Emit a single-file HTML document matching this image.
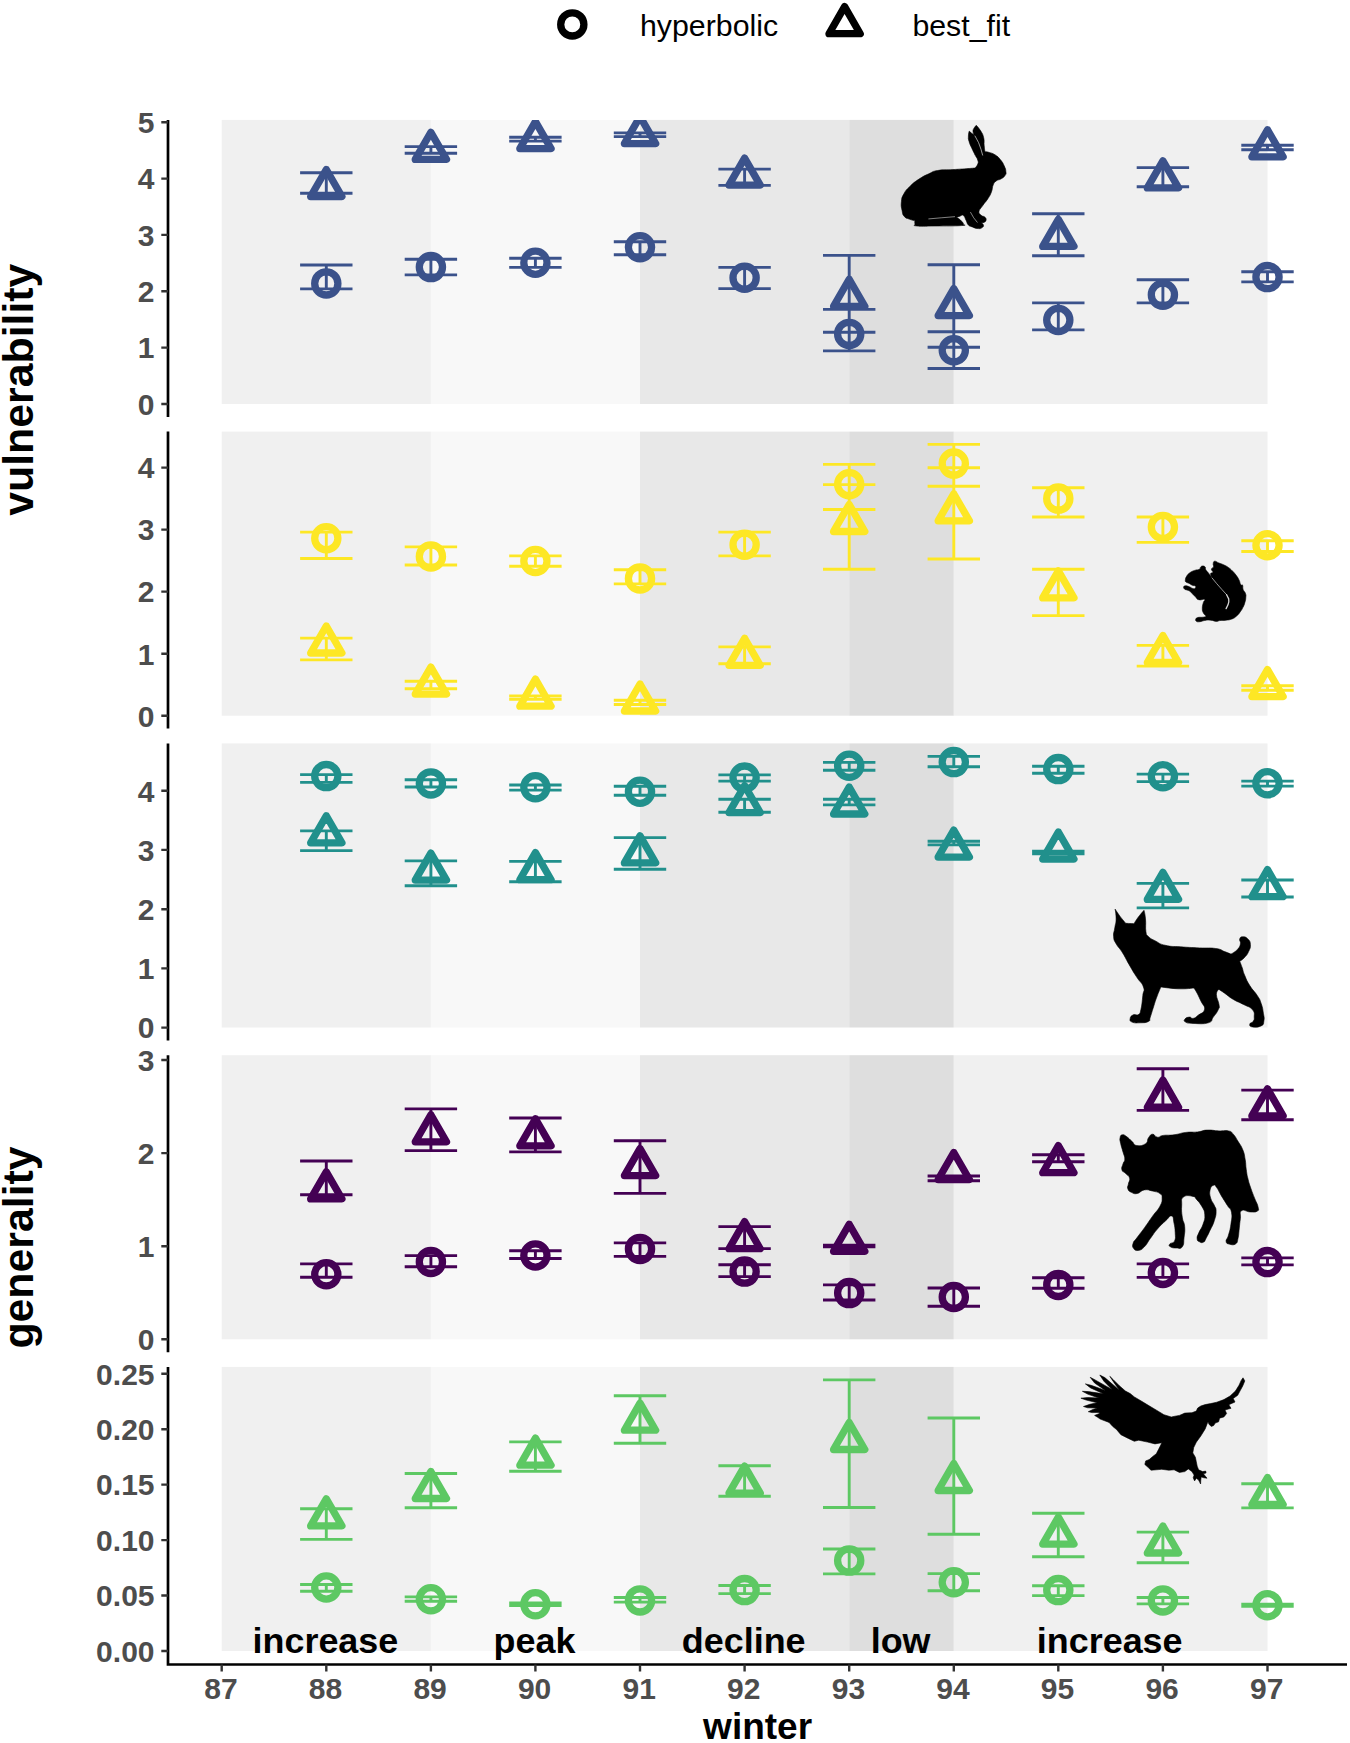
<!DOCTYPE html>
<html lang="en"><head><meta charset="utf-8"><title>vulnerability and generality by winter</title>
<style>
html,body{margin:0;padding:0;background:#fff}
body{width:1350px;height:1743px;overflow:hidden}
svg{display:block}
text{font-family:"Liberation Sans",sans-serif}
.tk{font-size:30px;font-weight:bold;fill:#4d4d4d}
.lab{font-size:35.9px;font-weight:bold;fill:#000;text-anchor:middle}
.leg{font-size:30.3px;fill:#000}
.ytitle{font-size:42.8px;font-weight:bold;fill:#000;text-anchor:middle}
.xtitle{font-size:37px;font-weight:bold;fill:#000;text-anchor:middle}
.mk{fill:none;stroke-width:7.3;stroke-linejoin:round}
.eb{fill:none;stroke-width:2.9}
</style></head><body>
<svg width="1350" height="1743" viewBox="0 0 1350 1743">
<rect width="1350" height="1743" fill="#fff"/>
<g id="legend">
<circle cx="572.3" cy="24.4" r="11.6" class="mk" stroke="#000"/>
<text class="leg" x="640.0" y="35.6">hyperbolic</text>
<path d="M844.60 6.66L860.22 33.72L828.98 33.72Z" class="mk" stroke="#000"/>
<text class="leg" x="912.4" y="35.6">best_fit</text>
</g>
<defs>
<clipPath id="cp0"><rect x="168.0" y="119.9" width="1179.0" height="297.0"/></clipPath>
<clipPath id="cp1"><rect x="168.0" y="431.6" width="1179.0" height="297.0"/></clipPath>
<clipPath id="cp2"><rect x="168.0" y="743.4" width="1179.0" height="297.0"/></clipPath>
<clipPath id="cp3"><rect x="168.0" y="1055.2" width="1179.0" height="297.0"/></clipPath>
<clipPath id="cp4"><rect x="168.0" y="1366.9" width="1179.0" height="297.0"/></clipPath>
</defs>
<g id="panel1">
<rect x="221.7" y="119.9" width="209.2" height="284.1" fill="#f0f0f0"/>
<rect x="430.9" y="119.9" width="209.2" height="284.1" fill="#f8f8f8"/>
<rect x="640.0" y="119.9" width="209.2" height="284.1" fill="#e8e8e8"/>
<rect x="849.2" y="119.9" width="104.6" height="284.1" fill="#dedede"/>
<rect x="953.8" y="119.9" width="313.7" height="284.1" fill="#f0f0f0"/>
<g clip-path="url(#cp0)" stroke="#3B528B">
<path class="eb" d="M300.1 172.7H352.5M300.1 193.2H352.5M326.3 172.7V193.2M300.1 265.0H352.5M300.1 288.9H352.5M326.3 265.0V288.9M404.7 146.6H457.1M404.7 153.3H457.1M430.9 146.6V153.3M404.7 259.3H457.1M404.7 274.9H457.1M430.9 259.3V274.9M509.2 137.2H561.6M509.2 141.1H561.6M535.4 137.2V141.1M509.2 258.3H561.6M509.2 267.4H561.6M535.4 258.3V267.4M613.8 132.9H666.2M613.8 136.6H666.2M640.0 132.9V136.6M613.8 241.7H666.2M613.8 254.7H666.2M640.0 241.7V254.7M718.4 169.1H770.8M718.4 185.4H770.8M744.6 169.1V185.4M718.4 267.4H770.8M718.4 288.6H770.8M744.6 267.4V288.6M823.0 255.4H875.4M823.0 332.2H875.4M849.2 255.4V332.2M823.0 309.4H875.4M823.0 350.9H875.4M849.2 309.4V350.9M927.6 264.8H980.0M927.6 347.2H980.0M953.8 264.8V347.2M927.6 331.7H980.0M927.6 368.5H980.0M953.8 331.7V368.5M1032.1 213.7H1084.5M1032.1 255.7H1084.5M1058.3 213.7V255.7M1032.1 302.9H1084.5M1032.1 329.9H1084.5M1058.3 302.9V329.9M1136.7 167.6H1189.1M1136.7 186.7H1189.1M1162.9 167.6V186.7M1136.7 279.8H1189.1M1136.7 302.9H1189.1M1162.9 279.8V302.9M1241.3 145.2H1293.7M1241.3 149.8H1293.7M1267.5 145.2V149.8M1241.3 271.7H1293.7M1241.3 281.9H1293.7M1267.5 271.7V281.9"/>
<circle class="mk" cx="326.3" cy="283.4" r="11.6"/>
<circle class="mk" cx="430.9" cy="267.1" r="11.6"/>
<circle class="mk" cx="535.4" cy="262.7" r="11.6"/>
<circle class="mk" cx="640.0" cy="247.2" r="11.6"/>
<circle class="mk" cx="744.6" cy="277.7" r="11.6"/>
<circle class="mk" cx="849.2" cy="333.9" r="11.6"/>
<circle class="mk" cx="953.8" cy="350.3" r="11.6"/>
<circle class="mk" cx="1058.3" cy="320.0" r="11.6"/>
<circle class="mk" cx="1162.9" cy="294.7" r="11.6"/>
<circle class="mk" cx="1267.5" cy="277.1" r="11.6"/>
<path class="mk" d="M326.28 169.46L341.90 196.52L310.66 196.52ZM430.86 132.36L446.48 159.42L415.24 159.42ZM535.44 121.56L551.06 148.62L519.82 148.62ZM640.02 116.56L655.64 143.62L624.40 143.62ZM744.60 158.06L760.22 185.12L728.98 185.12ZM849.18 279.26L864.80 306.32L833.56 306.32ZM953.76 288.56L969.38 315.62L938.14 315.62ZM1058.34 219.36L1073.96 246.42L1042.72 246.42ZM1162.92 160.86L1178.54 187.92L1147.30 187.92ZM1267.50 129.76L1283.12 156.82L1251.88 156.82Z"/>
</g>
<path d="M168.0 119.9V416.9" stroke="#000" stroke-width="2.7" fill="none"/>
<path d="M161.3 404.0H168.0M161.3 347.6H168.0M161.3 291.3H168.0M161.3 234.9H168.0M161.3 178.6H168.0M161.3 122.2H168.0" stroke="#333" stroke-width="2.4" fill="none"/>
<text class="tk" text-anchor="end" x="154.5" y="414.8">0</text>
<text class="tk" text-anchor="end" x="154.5" y="358.4">1</text>
<text class="tk" text-anchor="end" x="154.5" y="302.1">2</text>
<text class="tk" text-anchor="end" x="154.5" y="245.8">3</text>
<text class="tk" text-anchor="end" x="154.5" y="189.4">4</text>
<text class="tk" text-anchor="end" x="154.5" y="133.1">5</text>
</g>
<g id="panel2">
<rect x="221.7" y="431.6" width="209.2" height="284.1" fill="#f0f0f0"/>
<rect x="430.9" y="431.6" width="209.2" height="284.1" fill="#f8f8f8"/>
<rect x="640.0" y="431.6" width="209.2" height="284.1" fill="#e8e8e8"/>
<rect x="849.2" y="431.6" width="104.6" height="284.1" fill="#dedede"/>
<rect x="953.8" y="431.6" width="313.7" height="284.1" fill="#f0f0f0"/>
<g clip-path="url(#cp1)" stroke="#FDE725">
<path class="eb" d="M300.1 638.1H352.5M300.1 659.9H352.5M326.3 638.1V659.9M300.1 532.1H352.5M300.1 558.5H352.5M326.3 532.1V558.5M404.7 681.2H457.1M404.7 688.7H457.1M430.9 681.2V688.7M404.7 546.9H457.1M404.7 565.0H457.1M430.9 546.9V565.0M509.2 695.9H561.6M509.2 699.3H561.6M535.4 695.9V699.3M509.2 555.9H561.6M509.2 566.3H561.6M535.4 555.9V566.3M613.8 700.3H666.2M613.8 704.5H666.2M640.0 700.3V704.5M613.8 569.7H666.2M613.8 583.9H666.2M640.0 569.7V583.9M718.4 646.9H770.8M718.4 663.8H770.8M744.6 646.9V663.8M718.4 532.1H770.8M718.4 555.9H770.8M744.6 532.1V555.9M823.0 484.6H875.4M823.0 569.2H875.4M849.2 484.6V569.2M823.0 464.4H875.4M823.0 509.5H875.4M849.2 464.4V509.5M927.6 467.8H980.0M927.6 559.0H980.0M953.8 467.8V559.0M927.6 444.4H980.0M927.6 486.2H980.0M953.8 444.4V486.2M1032.1 569.2H1084.5M1032.1 615.6H1084.5M1058.3 569.2V615.6M1032.1 487.7H1084.5M1032.1 517.0H1084.5M1058.3 487.7V517.0M1136.7 645.4H1189.1M1136.7 666.1H1189.1M1162.9 645.4V666.1M1136.7 517.0H1189.1M1136.7 542.4H1189.1M1162.9 517.0V542.4M1241.3 685.7H1293.7M1241.3 690.2H1293.7M1267.5 685.7V690.2M1241.3 540.7H1293.7M1241.3 551.5H1293.7M1267.5 540.7V551.5"/>
<circle class="mk" cx="326.3" cy="538.2" r="11.6"/>
<circle class="mk" cx="430.9" cy="556.4" r="11.6"/>
<circle class="mk" cx="535.4" cy="561.0" r="11.6"/>
<circle class="mk" cx="640.0" cy="578.4" r="11.6"/>
<circle class="mk" cx="744.6" cy="544.7" r="11.6"/>
<circle class="mk" cx="849.2" cy="484.2" r="11.6"/>
<circle class="mk" cx="953.8" cy="463.6" r="11.6"/>
<circle class="mk" cx="1058.3" cy="498.6" r="11.6"/>
<circle class="mk" cx="1162.9" cy="527.0" r="11.6"/>
<circle class="mk" cx="1267.5" cy="545.2" r="11.6"/>
<path class="mk" d="M326.28 625.96L341.90 653.02L310.66 653.02ZM430.86 667.06L446.48 694.12L415.24 694.12ZM535.44 679.16L551.06 706.22L519.82 706.22ZM640.02 683.96L655.64 711.02L624.40 711.02ZM744.60 638.26L760.22 665.32L728.98 665.32ZM849.18 504.46L864.80 531.52L833.56 531.52ZM953.76 493.76L969.38 520.82L938.14 520.82ZM1058.34 570.86L1073.96 597.92L1042.72 597.92ZM1162.92 635.46L1178.54 662.52L1147.30 662.52ZM1267.50 669.56L1283.12 696.62L1251.88 696.62Z"/>
</g>
<path d="M168.0 431.6V728.6" stroke="#000" stroke-width="2.7" fill="none"/>
<path d="M161.3 715.7H168.0M161.3 653.7H168.0M161.3 591.6H168.0M161.3 529.6H168.0M161.3 467.6H168.0" stroke="#333" stroke-width="2.4" fill="none"/>
<text class="tk" text-anchor="end" x="154.5" y="726.5">0</text>
<text class="tk" text-anchor="end" x="154.5" y="664.5">1</text>
<text class="tk" text-anchor="end" x="154.5" y="602.4">2</text>
<text class="tk" text-anchor="end" x="154.5" y="540.4">3</text>
<text class="tk" text-anchor="end" x="154.5" y="478.4">4</text>
</g>
<g id="panel3">
<rect x="221.7" y="743.4" width="209.2" height="284.1" fill="#f0f0f0"/>
<rect x="430.9" y="743.4" width="209.2" height="284.1" fill="#f8f8f8"/>
<rect x="640.0" y="743.4" width="209.2" height="284.1" fill="#e8e8e8"/>
<rect x="849.2" y="743.4" width="104.6" height="284.1" fill="#dedede"/>
<rect x="953.8" y="743.4" width="313.7" height="284.1" fill="#f0f0f0"/>
<g clip-path="url(#cp2)" stroke="#21908C">
<path class="eb" d="M300.1 830.9H352.5M300.1 850.6H352.5M326.3 830.9V850.6M300.1 774.6H352.5M300.1 782.4H352.5M326.3 774.6V782.4M404.7 860.9H457.1M404.7 885.8H457.1M430.9 860.9V885.8M404.7 779.8H457.1M404.7 787.0H457.1M430.9 779.8V787.0M509.2 861.4H561.6M509.2 881.7H561.6M535.4 861.4V881.7M509.2 785.0H561.6M509.2 790.1H561.6M535.4 785.0V790.1M613.8 837.6H666.2M613.8 869.2H666.2M640.0 837.6V869.2M613.8 786.3H666.2M613.8 795.3H666.2M640.0 786.3V795.3M718.4 799.2H770.8M718.4 812.2H770.8M744.6 799.2V812.2M718.4 774.9H770.8M718.4 781.1H770.8M744.6 774.9V781.1M823.0 799.2H875.4M823.0 804.9H875.4M849.2 799.2V804.9M823.0 762.4H875.4M823.0 770.2H875.4M849.2 762.4V770.2M927.6 841.2H980.0M927.6 844.9H980.0M953.8 841.2V844.9M927.6 756.4H980.0M927.6 766.8H980.0M953.8 756.4V766.8M1032.1 851.1H1084.5M1032.1 853.7H1084.5M1058.3 851.1V853.7M1032.1 766.3H1084.5M1032.1 773.3H1084.5M1058.3 766.3V773.3M1136.7 883.4H1189.1M1136.7 907.9H1189.1M1162.9 883.4V907.9M1136.7 774.1H1189.1M1136.7 781.6H1189.1M1162.9 774.1V781.6M1241.3 880.0H1293.7M1241.3 897.0H1293.7M1267.5 880.0V897.0M1241.3 781.1H1293.7M1241.3 786.1H1293.7M1267.5 781.1V786.1"/>
<circle class="mk" cx="326.3" cy="776.1" r="11.6"/>
<circle class="mk" cx="430.9" cy="783.4" r="11.6"/>
<circle class="mk" cx="535.4" cy="787.3" r="11.6"/>
<circle class="mk" cx="640.0" cy="791.7" r="11.6"/>
<circle class="mk" cx="744.6" cy="777.6" r="11.6"/>
<circle class="mk" cx="849.2" cy="765.8" r="11.6"/>
<circle class="mk" cx="953.8" cy="762.1" r="11.6"/>
<circle class="mk" cx="1058.3" cy="769.1" r="11.6"/>
<circle class="mk" cx="1162.9" cy="776.3" r="11.6"/>
<circle class="mk" cx="1267.5" cy="783.3" r="11.6"/>
<path class="mk" d="M326.28 815.76L341.90 842.82L310.66 842.82ZM430.86 853.06L446.48 880.12L415.24 880.12ZM535.44 852.66L551.06 879.72L519.82 879.72ZM640.02 835.86L655.64 862.92L624.40 862.92ZM744.60 785.56L760.22 812.62L728.98 812.62ZM849.18 786.96L864.80 814.02L833.56 814.02ZM953.76 830.06L969.38 857.12L938.14 857.12ZM1058.34 831.96L1073.96 859.02L1042.72 859.02ZM1162.92 872.36L1178.54 899.42L1147.30 899.42ZM1267.50 869.66L1283.12 896.72L1251.88 896.72Z"/>
</g>
<path d="M168.0 743.4V1040.4" stroke="#000" stroke-width="2.7" fill="none"/>
<path d="M161.3 1027.6H168.0M161.3 968.4H168.0M161.3 909.2H168.0M161.3 849.9H168.0M161.3 790.7H168.0" stroke="#333" stroke-width="2.4" fill="none"/>
<text class="tk" text-anchor="end" x="154.5" y="1038.4">0</text>
<text class="tk" text-anchor="end" x="154.5" y="979.2">1</text>
<text class="tk" text-anchor="end" x="154.5" y="920.0">2</text>
<text class="tk" text-anchor="end" x="154.5" y="860.7">3</text>
<text class="tk" text-anchor="end" x="154.5" y="801.5">4</text>
</g>
<g id="panel4">
<rect x="221.7" y="1055.2" width="209.2" height="284.1" fill="#f0f0f0"/>
<rect x="430.9" y="1055.2" width="209.2" height="284.1" fill="#f8f8f8"/>
<rect x="640.0" y="1055.2" width="209.2" height="284.1" fill="#e8e8e8"/>
<rect x="849.2" y="1055.2" width="104.6" height="284.1" fill="#dedede"/>
<rect x="953.8" y="1055.2" width="313.7" height="284.1" fill="#f0f0f0"/>
<g clip-path="url(#cp3)" stroke="#440154">
<path class="eb" d="M300.1 1161.0H352.5M300.1 1194.7H352.5M326.3 1161.0V1194.7M300.1 1263.9H352.5M300.1 1277.2H352.5M326.3 1263.9V1277.2M404.7 1108.9H457.1M404.7 1150.6H457.1M430.9 1108.9V1150.6M404.7 1255.6H457.1M404.7 1266.8H457.1M430.9 1255.6V1266.8M509.2 1118.0H561.6M509.2 1151.9H561.6M535.4 1118.0V1151.9M509.2 1250.7H561.6M509.2 1258.5H561.6M535.4 1250.7V1258.5M613.8 1140.8H666.2M613.8 1193.4H666.2M640.0 1140.8V1193.4M613.8 1242.9H666.2M613.8 1256.4H666.2M640.0 1242.9V1256.4M718.4 1226.6H770.8M718.4 1248.6H770.8M744.6 1226.6V1248.6M718.4 1264.7H770.8M718.4 1276.6H770.8M744.6 1264.7V1276.6M823.0 1245.3H875.4M823.0 1246.8H875.4M849.2 1245.3V1246.8M823.0 1284.9H875.4M823.0 1300.0H875.4M849.2 1284.9V1300.0M927.6 1176.0H980.0M927.6 1180.7H980.0M953.8 1176.0V1180.7M927.6 1288.0H980.0M927.6 1306.2H980.0M953.8 1288.0V1306.2M1032.1 1154.8H1084.5M1032.1 1161.8H1084.5M1058.3 1154.8V1161.8M1032.1 1277.7H1084.5M1032.1 1288.3H1084.5M1058.3 1277.7V1288.3M1136.7 1068.7H1189.1M1136.7 1110.4H1189.1M1162.9 1068.7V1110.4M1136.7 1263.9H1189.1M1136.7 1277.4H1189.1M1162.9 1263.9V1277.4M1241.3 1090.1H1293.7M1241.3 1119.7H1293.7M1267.5 1090.1V1119.7M1241.3 1257.9H1293.7M1241.3 1264.9H1293.7M1267.5 1257.9V1264.9"/>
<circle class="mk" cx="326.3" cy="1274.3" r="11.6"/>
<circle class="mk" cx="430.9" cy="1261.9" r="11.6"/>
<circle class="mk" cx="535.4" cy="1255.5" r="11.6"/>
<circle class="mk" cx="640.0" cy="1248.9" r="11.6"/>
<circle class="mk" cx="744.6" cy="1271.6" r="11.6"/>
<circle class="mk" cx="849.2" cy="1293.1" r="11.6"/>
<circle class="mk" cx="953.8" cy="1297.0" r="11.6"/>
<circle class="mk" cx="1058.3" cy="1284.9" r="11.6"/>
<circle class="mk" cx="1162.9" cy="1272.9" r="11.6"/>
<circle class="mk" cx="1267.5" cy="1262.1" r="11.6"/>
<path class="mk" d="M326.28 1171.86L341.90 1198.92L310.66 1198.92ZM430.86 1114.76L446.48 1141.82L415.24 1141.82ZM535.44 1118.76L551.06 1145.82L519.82 1145.82ZM640.02 1148.56L655.64 1175.62L624.40 1175.62ZM744.60 1221.66L760.22 1248.72L728.98 1248.72ZM849.18 1224.26L864.80 1251.32L833.56 1251.32ZM953.76 1152.46L969.38 1179.52L938.14 1179.52ZM1058.34 1145.66L1073.96 1172.72L1042.72 1172.72ZM1162.92 1080.16L1178.54 1107.22L1147.30 1107.22ZM1267.50 1088.86L1283.12 1115.92L1251.88 1115.92Z"/>
</g>
<path d="M168.0 1055.2V1352.2" stroke="#000" stroke-width="2.7" fill="none"/>
<path d="M161.3 1339.3H168.0M161.3 1246.2H168.0M161.3 1153.1H168.0M161.3 1060.0H168.0" stroke="#333" stroke-width="2.4" fill="none"/>
<text class="tk" text-anchor="end" x="154.5" y="1350.1">0</text>
<text class="tk" text-anchor="end" x="154.5" y="1257.0">1</text>
<text class="tk" text-anchor="end" x="154.5" y="1163.9">2</text>
<text class="tk" text-anchor="end" x="154.5" y="1070.8">3</text>
</g>
<g id="panel5">
<rect x="221.7" y="1366.9" width="209.2" height="284.1" fill="#f0f0f0"/>
<rect x="430.9" y="1366.9" width="209.2" height="284.1" fill="#f8f8f8"/>
<rect x="640.0" y="1366.9" width="209.2" height="284.1" fill="#e8e8e8"/>
<rect x="849.2" y="1366.9" width="104.6" height="284.1" fill="#dedede"/>
<rect x="953.8" y="1366.9" width="313.7" height="284.1" fill="#f0f0f0"/>
<text class="lab" x="325.4" y="1652.7">increase</text>
<text class="lab" x="534.5" y="1652.7">peak</text>
<text class="lab" x="743.7" y="1652.7">decline</text>
<text class="lab" x="900.6" y="1652.7">low</text>
<text class="lab" x="1109.7" y="1652.7">increase</text>
<g clip-path="url(#cp4)" stroke="#5DC863">
<path class="eb" d="M300.1 1508.8H352.5M300.1 1539.4H352.5M326.3 1508.8V1539.4M300.1 1584.5H352.5M300.1 1591.2H352.5M326.3 1584.5V1591.2M404.7 1473.5H457.1M404.7 1507.7H457.1M430.9 1473.5V1507.7M404.7 1596.9H457.1M404.7 1601.3H457.1M430.9 1596.9V1601.3M509.2 1441.9H561.6M509.2 1471.2H561.6M535.4 1441.9V1471.2M509.2 1603.0H561.6M509.2 1605.5H561.6M535.4 1603.0V1605.5M613.8 1395.7H666.2M613.8 1443.2H666.2M640.0 1395.7V1443.2M613.8 1597.5H666.2M613.8 1602.1H666.2M640.0 1597.5V1602.1M718.4 1465.7H770.8M718.4 1496.3H770.8M744.6 1465.7V1496.3M718.4 1585.5H770.8M718.4 1593.6H770.8M744.6 1585.5V1593.6M823.0 1379.9H875.4M823.0 1507.5H875.4M849.2 1379.9V1507.5M823.0 1549.0H875.4M823.0 1573.9H875.4M849.2 1549.0V1573.9M927.6 1418.0H980.0M927.6 1534.2H980.0M953.8 1418.0V1534.2M927.6 1573.6H980.0M927.6 1590.7H980.0M953.8 1573.6V1590.7M1032.1 1513.2H1084.5M1032.1 1556.8H1084.5M1058.3 1513.2V1556.8M1032.1 1585.8H1084.5M1032.1 1595.6H1084.5M1058.3 1585.8V1595.6M1136.7 1532.1H1189.1M1136.7 1562.7H1189.1M1162.9 1532.1V1562.7M1136.7 1597.5H1189.1M1136.7 1603.9H1189.1M1162.9 1597.5V1603.9M1241.3 1483.8H1293.7M1241.3 1507.9H1293.7M1267.5 1483.8V1507.9M1241.3 1604.2H1293.7M1241.3 1606.2H1293.7M1267.5 1604.2V1606.2"/>
<circle class="mk" cx="326.3" cy="1587.5" r="11.6"/>
<circle class="mk" cx="430.9" cy="1599.3" r="11.6"/>
<circle class="mk" cx="535.4" cy="1604.3" r="11.6"/>
<circle class="mk" cx="640.0" cy="1600.4" r="11.6"/>
<circle class="mk" cx="744.6" cy="1590.1" r="11.6"/>
<circle class="mk" cx="849.2" cy="1560.6" r="11.6"/>
<circle class="mk" cx="953.8" cy="1582.3" r="11.6"/>
<circle class="mk" cx="1058.3" cy="1590.1" r="11.6"/>
<circle class="mk" cx="1162.9" cy="1600.4" r="11.6"/>
<circle class="mk" cx="1267.5" cy="1605.2" r="11.6"/>
<path class="mk" d="M326.28 1498.86L341.90 1525.92L310.66 1525.92ZM430.86 1471.46L446.48 1498.52L415.24 1498.52ZM535.44 1438.16L551.06 1465.22L519.82 1465.22ZM640.02 1403.16L655.64 1430.22L624.40 1430.22ZM744.60 1466.06L760.22 1493.12L728.98 1493.12ZM849.18 1422.46L864.80 1449.52L833.56 1449.52ZM953.76 1463.46L969.38 1490.52L938.14 1490.52ZM1058.34 1517.06L1073.96 1544.12L1042.72 1544.12ZM1162.92 1525.96L1178.54 1553.02L1147.30 1553.02ZM1267.50 1477.46L1283.12 1504.52L1251.88 1504.52Z"/>
</g>
<path d="M168.0 1366.9V1664.5H1347.0" stroke="#000" stroke-width="2.7" fill="none" stroke-linejoin="miter"/>
<path d="M161.3 1651.0H168.0M161.3 1595.5H168.0M161.3 1540.1H168.0M161.3 1484.6H168.0M161.3 1429.2H168.0M161.3 1373.7H168.0" stroke="#333" stroke-width="2.4" fill="none"/>
<text class="tk" text-anchor="end" x="154.5" y="1661.8">0.00</text>
<text class="tk" text-anchor="end" x="154.5" y="1606.3">0.05</text>
<text class="tk" text-anchor="end" x="154.5" y="1550.9">0.10</text>
<text class="tk" text-anchor="end" x="154.5" y="1495.4">0.15</text>
<text class="tk" text-anchor="end" x="154.5" y="1440.0">0.20</text>
<text class="tk" text-anchor="end" x="154.5" y="1384.5">0.25</text>
</g>
<path d="M221.7 1664.5V1671.4M326.3 1664.5V1671.4M430.9 1664.5V1671.4M535.4 1664.5V1671.4M640.0 1664.5V1671.4M744.6 1664.5V1671.4M849.2 1664.5V1671.4M953.8 1664.5V1671.4M1058.3 1664.5V1671.4M1162.9 1664.5V1671.4M1267.5 1664.5V1671.4" stroke="#333" stroke-width="2.4" fill="none"/>
<text class="tk" text-anchor="middle" x="220.9" y="1699.3">87</text>
<text class="tk" text-anchor="middle" x="325.5" y="1699.3">88</text>
<text class="tk" text-anchor="middle" x="430.1" y="1699.3">89</text>
<text class="tk" text-anchor="middle" x="534.6" y="1699.3">90</text>
<text class="tk" text-anchor="middle" x="639.2" y="1699.3">91</text>
<text class="tk" text-anchor="middle" x="743.8" y="1699.3">92</text>
<text class="tk" text-anchor="middle" x="848.4" y="1699.3">93</text>
<text class="tk" text-anchor="middle" x="953.0" y="1699.3">94</text>
<text class="tk" text-anchor="middle" x="1057.5" y="1699.3">95</text>
<text class="tk" text-anchor="middle" x="1162.1" y="1699.3">96</text>
<text class="tk" text-anchor="middle" x="1266.7" y="1699.3">97</text>
<text class="xtitle" x="757.6" y="1739.4">winter</text>
<text class="ytitle" transform="translate(32.8 389.7) rotate(-90)">vulnerability</text>
<text class="ytitle" transform="translate(32.6 1247.5) rotate(-90)">generality</text>
<g id="animals" fill="#000" stroke="#000" stroke-width="0.6" stroke-linejoin="round">
<path id="hare" d="M969.2 131.1C969.2 131.1 968.5 133.3 968.4 136.0C968.4 138.7 968.0 138.0 969.0 141.3C969.9 144.7 970.2 144.7 971.9 148.4C973.6 152.2 973.9 152.5 975.4 155.6C977.0 158.6 977.0 157.7 977.7 160.0C978.3 162.3 978.6 161.9 977.8 164.0C977.1 166.1 975.0 168.0 975.0 168.0C975.0 168.0 972.0 168.3 966.1 168.7C960.2 169.1 960.4 169.1 952.8 169.6C945.2 170.1 944.1 169.4 937.7 170.5C931.3 171.6 933.8 171.5 928.8 173.8C923.8 176.1 924.0 175.8 919.0 179.1C914.0 182.4 914.1 182.3 910.1 186.2C906.1 190.1 906.2 189.6 903.9 193.8C901.6 197.9 901.9 197.3 901.4 201.8C900.9 206.3 901.3 206.8 902.1 210.7C902.9 214.6 902.4 214.2 904.3 216.4C906.2 218.7 906.4 217.9 909.2 219.1C912.1 220.3 915.0 220.9 915.0 220.9C915.0 220.9 914.5 222.6 915.0 224.0C915.5 225.4 911.4 225.4 916.8 226.0C922.1 226.5 923.1 226.1 935.0 226.0C946.9 225.9 953.7 226.1 961.2 225.6C968.8 225.1 963.0 225.2 963.3 224.2C963.5 223.2 963.4 223.3 962.1 221.8C960.9 220.3 960.1 219.7 958.6 218.5C957.0 217.3 956.3 217.3 956.3 217.3C956.3 217.3 958.0 216.7 959.9 216.2C961.8 215.7 961.8 214.4 963.4 215.6C965.1 216.7 964.8 218.0 966.1 220.4C967.4 222.9 966.7 223.2 968.3 224.9C970.0 226.6 969.7 225.9 972.3 226.9C974.9 227.9 975.5 228.5 978.1 228.6C980.7 228.8 980.7 228.6 982.1 227.6C983.5 226.6 983.8 226.3 983.4 224.9C983.1 223.5 980.8 222.4 980.8 222.4C980.8 222.4 982.5 223.0 983.9 222.4C985.3 221.8 985.9 221.4 986.1 220.0C986.3 218.6 986.1 218.3 984.8 217.1C983.5 215.8 982.8 216.8 981.2 215.3C979.7 213.8 978.6 214.1 979.0 211.6C979.4 209.0 980.2 209.2 982.6 205.8C984.9 202.3 985.5 202.3 987.9 198.7C990.3 195.0 990.0 195.7 991.4 192.0C992.9 188.3 991.9 187.9 993.2 184.9C994.5 181.9 994.2 182.5 996.3 180.9C998.5 179.3 998.9 180.3 1001.2 178.8C1003.5 177.4 1003.8 177.5 1005.0 175.6C1006.3 173.6 1006.2 174.2 1005.9 171.6C1005.7 168.9 1005.6 169.0 1004.2 165.8C1002.7 162.6 1002.8 162.5 1000.3 159.6C997.9 156.6 998.0 156.7 995.0 154.8C992.0 152.9 991.9 153.3 989.2 152.4C986.5 151.6 985.0 151.8 985.0 151.8C985.0 151.8 984.5 149.5 984.2 145.8C983.8 142.0 984.6 141.7 983.7 137.8C982.8 133.9 982.7 134.4 980.8 131.1C978.8 127.8 976.3 125.3 976.3 125.3C976.3 125.3 974.5 127.1 973.7 128.7C972.8 130.4 973.0 130.0 973.0 131.6C973.1 133.1 973.9 134.7 973.9 134.7C973.9 134.7 972.9 134.1 971.6 133.2C970.4 132.2 969.2 131.1 969.2 131.1Z"/>
<path id="squirrel" d="M1202.9 566.0C1204.0 566.0 1204.4 566.1 1205.2 567.1C1206.0 568.2 1204.9 568.2 1205.8 569.8C1206.8 571.5 1207.5 571.8 1208.8 573.4C1210.0 575.0 1209.7 574.6 1210.6 575.7C1211.4 576.8 1212.0 578.1 1212.0 577.5C1212.0 577.0 1210.3 575.1 1210.6 573.7C1210.8 572.2 1212.7 573.4 1212.9 572.2C1213.2 571.0 1211.3 570.6 1211.4 569.2C1211.6 567.8 1213.0 568.3 1213.5 566.9C1214.0 565.4 1212.9 565.4 1213.2 563.9C1213.5 562.4 1213.2 561.5 1214.7 561.2C1216.2 561.0 1216.5 562.1 1218.9 563.0C1221.2 563.9 1221.1 563.6 1223.6 564.8C1226.1 566.0 1226.0 565.8 1228.3 567.4C1230.7 569.1 1230.4 568.9 1232.5 571.0C1234.5 573.1 1234.3 572.8 1236.0 575.1C1237.8 577.5 1237.7 577.4 1239.0 579.9C1240.3 582.4 1239.8 583.2 1240.8 584.6C1241.7 586.1 1241.9 584.0 1242.6 585.2C1243.2 586.5 1242.4 587.2 1243.1 589.4C1243.9 591.6 1244.8 591.3 1245.5 593.5C1246.2 595.7 1246.0 595.3 1245.8 597.7C1245.7 600.0 1245.6 599.9 1244.9 602.4C1244.2 604.9 1244.4 604.6 1243.1 607.1C1241.9 609.7 1241.9 609.5 1240.2 611.9C1238.4 614.3 1238.8 614.1 1236.6 616.0C1234.4 617.9 1234.7 617.9 1231.9 619.0C1229.0 620.1 1229.1 619.8 1226.0 620.2C1222.8 620.6 1222.6 620.2 1220.0 620.5C1217.5 620.8 1219.0 621.4 1216.5 621.4C1214.0 621.3 1213.7 620.4 1210.6 620.2C1207.4 619.9 1207.5 620.1 1204.6 620.5C1201.8 620.9 1202.0 621.4 1199.9 621.7C1197.8 621.9 1197.7 622.0 1196.6 621.4C1195.5 620.7 1195.4 620.3 1195.7 619.3C1196.1 618.3 1195.9 618.1 1197.8 617.5C1199.7 617.0 1200.7 617.5 1202.9 617.2C1205.0 616.9 1205.7 617.4 1205.8 616.3C1206.0 615.2 1204.4 615.2 1203.4 613.1C1202.5 610.9 1202.3 611.2 1202.3 608.3C1202.3 605.5 1202.8 604.8 1203.4 602.4C1204.1 600.0 1205.9 600.2 1204.6 599.4C1203.4 598.7 1201.2 600.5 1198.7 599.7C1196.2 599.0 1197.0 598.3 1195.1 596.5C1193.3 594.7 1193.3 594.5 1191.6 592.9C1189.9 591.3 1190.4 591.5 1188.6 590.6C1186.9 589.6 1186.4 590.2 1185.1 589.4C1183.7 588.5 1183.5 588.2 1183.6 587.3C1183.7 586.3 1183.9 586.0 1185.4 585.8C1186.9 585.7 1187.2 586.0 1189.2 586.7C1191.2 587.4 1191.2 588.1 1192.8 588.5C1194.4 588.9 1194.4 588.8 1195.1 588.2C1195.9 587.6 1196.2 586.9 1195.4 586.1C1194.7 585.3 1193.8 585.9 1192.2 585.2C1190.5 584.5 1190.9 584.3 1189.2 583.4C1187.6 582.6 1187.0 582.9 1186.0 582.0C1184.9 581.0 1185.2 581.4 1185.4 579.9C1185.5 578.4 1185.4 578.2 1186.6 576.3C1187.7 574.4 1187.7 574.4 1189.8 572.8C1191.9 571.2 1192.0 571.4 1194.6 570.4C1197.1 569.5 1197.6 570.2 1199.3 569.2C1201.0 568.3 1199.8 567.7 1200.8 566.9C1201.7 566.0 1201.7 565.9 1202.9 566.0Z"/>
<path id="lynx" d="M1115.1 909.1C1115.1 909.1 1117.3 912.6 1120.1 916.4C1123.0 920.2 1125.8 923.3 1125.8 923.3C1125.8 923.3 1134.0 923.7 1134.0 923.7C1134.0 923.7 1135.7 920.6 1138.4 917.0C1141.1 913.4 1144.0 910.3 1144.0 910.3C1144.0 910.3 1145.0 913.2 1145.5 918.9C1146.1 924.5 1145.2 926.8 1145.9 931.5C1146.7 936.2 1145.9 934.0 1148.4 936.5C1151.0 939.0 1150.8 938.6 1155.4 940.9C1159.9 943.3 1158.7 943.8 1165.4 945.3C1172.2 946.9 1171.5 946.2 1180.6 946.8C1189.6 947.5 1190.0 947.4 1199.4 947.9C1208.8 948.3 1209.1 947.5 1215.8 948.5C1222.5 949.5 1220.6 950.1 1224.6 951.6C1228.7 953.1 1230.9 954.1 1230.9 954.1C1230.9 954.1 1234.7 952.4 1237.2 949.7C1239.7 947.1 1239.7 946.9 1240.4 944.1C1241.0 941.2 1239.1 941.0 1239.7 939.0C1240.4 937.1 1240.7 936.8 1242.9 936.8C1245.1 936.8 1245.9 936.9 1247.9 939.0C1249.9 941.2 1250.3 941.3 1250.4 944.7C1250.6 948.1 1250.2 948.1 1248.6 951.6C1246.9 955.2 1246.5 955.4 1244.1 957.9C1241.8 960.4 1239.7 961.1 1239.7 961.1C1239.7 961.1 1240.9 964.1 1242.3 968.0C1243.6 971.9 1242.8 970.9 1244.8 975.6C1246.8 980.3 1246.5 980.3 1249.8 985.6C1253.2 991.0 1254.3 991.0 1257.4 995.7C1260.4 1000.4 1259.5 998.6 1261.1 1003.3C1262.8 1008.0 1262.7 1008.6 1263.4 1013.3C1264.2 1018.0 1264.5 1017.5 1263.9 1020.9C1263.3 1024.2 1264.2 1024.3 1261.1 1025.9C1258.1 1027.5 1255.4 1027.4 1252.3 1026.9C1249.3 1026.4 1249.6 1025.5 1249.8 1024.0C1250.0 1022.6 1251.8 1023.4 1253.0 1021.5C1254.1 1019.7 1254.4 1020.3 1254.2 1017.1C1254.1 1013.9 1255.2 1012.9 1252.3 1009.6C1249.5 1006.2 1248.6 1007.2 1243.5 1004.5C1238.5 1001.8 1238.5 1002.5 1233.4 999.5C1228.4 996.5 1228.5 995.9 1224.6 993.2C1220.8 990.5 1219.0 989.4 1219.0 989.4C1219.0 989.4 1216.4 990.4 1216.4 994.4C1216.4 998.5 1218.5 1000.5 1219.0 1004.5C1219.5 1008.5 1219.8 1006.2 1218.3 1009.6C1216.8 1012.9 1216.0 1013.6 1213.3 1017.1C1210.6 1020.6 1213.6 1021.1 1208.3 1022.8C1202.9 1024.5 1199.2 1023.6 1193.1 1023.4C1187.1 1023.2 1187.8 1023.3 1185.6 1022.1C1183.4 1021.0 1184.0 1020.3 1185.0 1019.0C1186.0 1017.7 1187.2 1017.3 1189.4 1017.1C1191.6 1016.9 1190.8 1018.9 1193.1 1018.4C1195.5 1017.9 1195.2 1017.6 1198.2 1015.2C1201.2 1012.9 1203.8 1013.4 1204.5 1009.6C1205.2 1005.7 1203.1 1005.8 1200.7 1000.7C1198.4 995.7 1197.7 994.0 1195.7 990.7C1193.7 987.3 1193.1 988.1 1193.1 988.1C1193.1 988.1 1186.6 989.1 1178.0 988.8C1169.5 988.4 1161.0 986.9 1161.0 986.9C1161.0 986.9 1159.3 990.3 1157.3 995.7C1155.2 1001.1 1155.3 1001.3 1153.5 1007.0C1151.6 1012.7 1151.7 1013.2 1150.3 1017.1C1149.0 1021.0 1151.1 1020.0 1148.4 1021.5C1145.8 1023.0 1144.6 1022.6 1140.3 1022.8C1135.9 1022.9 1134.8 1023.3 1132.1 1022.1C1129.4 1021.0 1129.8 1020.3 1130.2 1018.4C1130.5 1016.4 1131.2 1015.9 1133.3 1014.8C1135.5 1013.8 1136.4 1016.0 1138.4 1014.6C1140.4 1013.2 1139.7 1014.6 1140.9 1009.6C1142.1 1004.5 1142.1 1001.7 1142.8 995.7C1143.4 989.7 1145.1 991.9 1143.4 986.9C1141.7 981.9 1140.3 982.9 1136.5 976.8C1132.6 970.8 1132.6 970.6 1128.9 964.2C1125.2 957.8 1126.0 958.3 1122.6 952.9C1119.3 947.5 1118.8 948.4 1116.3 944.1C1113.9 939.7 1114.0 940.9 1113.6 936.5C1113.2 932.2 1114.2 932.4 1114.8 927.7C1115.5 923.0 1116.0 923.9 1116.1 918.9C1116.1 913.9 1115.1 909.1 1115.1 909.1Z"/>
<path id="coyote" d="M1122.4 1134.8C1124.2 1134.5 1124.1 1134.9 1126.6 1136.6C1129.1 1138.3 1129.2 1139.0 1131.9 1141.3C1134.6 1143.7 1133.0 1144.8 1136.7 1145.5C1140.3 1146.1 1142.4 1145.8 1145.6 1143.7C1148.7 1141.6 1146.6 1140.3 1148.5 1137.8C1150.4 1135.2 1150.3 1134.4 1152.7 1134.2C1155.0 1134.1 1154.6 1136.9 1157.4 1137.2C1160.3 1137.5 1158.9 1136.0 1163.3 1135.4C1167.8 1134.8 1168.0 1135.6 1174.0 1134.8C1180.0 1134.0 1179.5 1133.2 1185.9 1132.4C1192.2 1131.7 1192.0 1132.5 1197.7 1131.9C1203.4 1131.2 1201.5 1130.3 1207.2 1130.1C1212.9 1129.8 1213.3 1130.7 1219.0 1130.9C1224.7 1131.1 1224.7 1130.0 1228.5 1130.9C1232.3 1131.8 1230.7 1131.4 1233.3 1134.2C1235.8 1137.0 1235.5 1137.2 1238.0 1141.3C1240.5 1145.4 1240.8 1144.9 1242.7 1149.6C1244.6 1154.4 1244.2 1153.7 1245.1 1159.1C1246.1 1164.5 1245.5 1164.4 1246.3 1169.8C1247.1 1175.2 1246.8 1174.2 1248.1 1179.3C1249.3 1184.3 1249.3 1183.7 1251.0 1188.7C1252.8 1193.8 1252.7 1193.3 1254.6 1198.2C1256.5 1203.1 1257.5 1203.6 1258.1 1207.1C1258.8 1210.6 1259.2 1210.0 1257.0 1211.3C1254.8 1212.5 1254.0 1212.0 1249.9 1211.9C1245.7 1211.7 1244.1 1208.9 1241.6 1210.7C1239.0 1212.4 1241.0 1213.5 1240.4 1218.4C1239.7 1223.3 1239.8 1223.7 1239.2 1229.0C1238.6 1234.4 1238.9 1234.6 1238.0 1238.5C1237.1 1242.5 1237.8 1242.3 1235.6 1243.9C1233.4 1245.4 1232.2 1244.8 1229.7 1244.2C1227.2 1243.6 1226.5 1243.9 1226.1 1241.5C1225.8 1239.0 1227.3 1239.5 1228.5 1235.0C1229.8 1230.4 1230.1 1230.3 1230.9 1224.3C1231.7 1218.3 1232.4 1217.5 1231.5 1212.4C1230.5 1207.4 1230.0 1209.8 1227.3 1205.3C1224.6 1200.9 1224.3 1200.6 1221.4 1195.9C1218.6 1191.1 1218.7 1190.4 1216.7 1187.6C1214.6 1184.7 1215.4 1184.6 1213.7 1185.2C1212.0 1185.8 1210.9 1186.4 1210.1 1189.9C1209.4 1193.4 1209.6 1194.1 1210.7 1198.2C1211.8 1202.3 1212.9 1201.9 1214.3 1205.3C1215.7 1208.8 1216.1 1207.2 1216.1 1211.3C1216.1 1215.4 1215.9 1215.7 1214.3 1220.7C1212.7 1225.8 1212.4 1225.5 1210.1 1230.2C1207.9 1235.0 1207.7 1235.4 1206.0 1238.5C1204.3 1241.7 1205.4 1241.2 1203.6 1242.1C1201.9 1243.0 1201.2 1242.8 1199.5 1241.8C1197.7 1240.9 1197.3 1241.0 1197.1 1238.5C1197.0 1236.1 1197.3 1236.4 1198.9 1232.6C1200.5 1228.8 1201.5 1229.0 1203.0 1224.3C1204.6 1219.6 1205.1 1219.6 1204.8 1214.8C1204.5 1210.1 1204.1 1210.6 1201.9 1206.5C1199.6 1202.4 1198.9 1202.1 1196.5 1199.4C1194.1 1196.7 1196.4 1197.1 1193.0 1196.4C1189.5 1195.8 1186.5 1194.7 1183.5 1197.0C1180.5 1199.4 1182.0 1200.0 1181.7 1205.3C1181.4 1210.7 1181.5 1211.5 1182.3 1217.2C1183.1 1222.9 1184.2 1221.3 1184.7 1226.7C1185.1 1232.0 1184.7 1232.0 1184.1 1237.3C1183.4 1242.7 1184.4 1244.0 1182.3 1246.8C1180.2 1249.7 1179.5 1248.0 1176.4 1248.0C1173.2 1248.0 1172.2 1247.9 1170.4 1246.8C1168.7 1245.7 1168.7 1245.4 1169.9 1243.9C1171.0 1242.3 1173.2 1243.9 1174.6 1240.9C1176.0 1237.9 1175.3 1237.3 1175.2 1232.6C1175.0 1227.9 1174.9 1227.5 1174.0 1223.1C1173.1 1218.7 1173.8 1216.6 1171.6 1216.0C1169.4 1215.4 1169.5 1217.3 1165.7 1220.7C1161.9 1224.2 1161.5 1224.3 1157.4 1229.0C1153.3 1233.8 1153.8 1233.8 1150.3 1238.5C1146.8 1243.3 1147.5 1243.7 1144.4 1246.8C1141.2 1250.0 1141.3 1249.9 1138.4 1250.4C1135.6 1250.8 1135.1 1250.5 1133.7 1248.6C1132.3 1246.7 1132.2 1246.3 1133.1 1243.3C1134.1 1240.3 1134.3 1241.4 1137.3 1237.3C1140.3 1233.2 1140.3 1233.5 1144.4 1227.9C1148.5 1222.2 1148.6 1221.7 1152.7 1216.0C1156.8 1210.3 1157.2 1211.3 1159.8 1206.5C1162.3 1201.8 1162.1 1201.7 1162.1 1198.2C1162.1 1194.7 1162.3 1195.4 1159.8 1193.5C1157.2 1191.6 1156.8 1192.1 1152.7 1191.1C1148.6 1190.2 1148.5 1189.3 1144.4 1189.9C1140.3 1190.6 1140.7 1192.8 1137.3 1193.5C1133.8 1194.1 1133.9 1193.6 1131.3 1192.3C1128.8 1191.0 1128.6 1191.0 1127.8 1188.7C1127.0 1186.5 1127.9 1186.8 1128.4 1184.0C1128.8 1181.2 1130.3 1180.9 1129.6 1178.1C1128.8 1175.2 1127.5 1175.5 1125.4 1173.3C1123.4 1171.1 1122.5 1172.3 1121.9 1169.8C1121.2 1167.2 1122.2 1166.7 1123.0 1163.9C1123.8 1161.0 1124.8 1162.3 1124.8 1159.1C1124.8 1156.0 1124.1 1156.1 1123.0 1152.0C1121.9 1147.9 1121.5 1147.5 1120.7 1143.7C1119.9 1139.9 1119.6 1140.1 1120.1 1137.8C1120.5 1135.4 1120.7 1135.1 1122.4 1134.8Z"/>
<path id="owl" d="M1175.0 1416.2L1179.4 1415.4L1184.8 1413.1L1191.9 1412.7L1196.3 1411.1L1197.7 1408.0L1200.8 1406.0L1205.2 1404.6L1210.6 1403.6L1216.8 1402.2L1223.9 1399.6L1230.1 1396.0L1235.4 1391.1L1239.0 1385.3L1241.2 1380.4L1243.0 1377.8L1244.8 1380.9L1242.7 1386.0L1240.1 1390.8L1237.7 1395.3L1233.2 1398.5L1235.0 1402.0L1228.8 1404.7L1231.0 1408.3L1225.0 1410.0L1226.6 1413.6L1223.9 1416.9L1219.6 1418.2L1218.6 1421.8L1215.2 1423.1L1213.7 1425.5L1211.4 1426.4L1209.2 1424.6L1207.9 1421.8L1205.2 1428.9L1200.8 1436.0L1196.3 1442.2L1193.7 1447.6L1192.8 1452.9L1195.4 1457.3L1196.3 1461.8L1197.2 1466.2L1198.6 1469.8L1202.6 1471.6L1205.7 1471.1L1206.1 1472.9L1203.4 1473.8L1205.2 1476.0L1207.0 1478.2L1203.9 1477.8L1201.2 1476.9L1200.8 1480.0L1200.6 1484.0L1198.6 1480.0L1196.3 1478.2L1194.6 1480.9L1193.2 1477.8L1194.1 1475.1L1191.9 1471.6L1188.3 1468.9L1184.8 1471.6L1179.4 1472.4L1174.1 1469.8L1168.8 1470.2L1161.7 1469.3L1156.3 1469.8L1151.0 1470.2L1148.3 1467.6L1144.8 1464.4L1145.7 1460.9L1149.2 1459.6L1152.8 1456.4L1156.3 1453.8L1158.6 1449.3L1160.8 1444.9L1161.7 1442.7L1155.0 1443.9L1147.6 1442.1L1138.7 1440.2L1134.3 1441.3L1128.3 1438.4L1120.9 1434.7L1116.5 1429.5L1112.8 1426.5L1109.1 1422.4L1100.2 1419.1L1097.2 1417.0L1094.6 1415.4L1099.4 1413.5L1099.1 1412.4L1092.0 1412.6L1088.3 1411.7L1092.8 1409.5L1097.2 1408.0L1087.6 1407.8L1083.5 1406.5L1089.8 1404.3L1097.2 1402.8L1086.1 1400.0L1080.9 1398.2L1087.6 1397.5L1098.7 1398.0L1087.6 1394.1L1082.4 1391.3L1088.3 1391.6L1103.5 1393.8L1090.6 1387.9L1085.4 1383.9L1091.1 1385.3L1105.4 1390.4L1094.6 1383.0L1090.2 1377.3L1095.1 1379.9L1112.0 1389.5L1103.9 1381.2L1099.8 1375.0L1104.8 1377.6L1119.4 1390.2L1113.7 1382.2L1109.8 1376.3L1113.5 1379.9L1119.4 1385.8L1125.4 1391.0L1130.2 1393.6L1134.3 1396.9L1141.7 1401.3L1149.1 1405.8L1156.5 1410.2L1163.9 1414.7L1171.3 1417.0Z"/>
</g>
<g id="highlights" fill="none" stroke="#d8d8d8" stroke-linecap="round" stroke-linejoin="round">
<path d="M975.0 136.0L978.6 142.7L981.0 149.3L982.6 155.1" stroke-width="0.7"/>
<path d="M928.8 218.9L941.2 217.8L954.6 216.7" stroke-width="0.6"/>
<path d="M970.6 212.4L973.7 217.8L977.2 222.2" stroke-width="0.6"/>
<path d="M1212.2 578.1L1216.5 583.4L1221.8 589.4L1226.6 594.7" stroke-width="0.7"/>
<path d="M1226.6 594.7L1228.7 598.9L1228.8 601.8L1228.0 604.8L1226.1 608.6" stroke-width="1.3"/>
</g>
</svg></body></html>
